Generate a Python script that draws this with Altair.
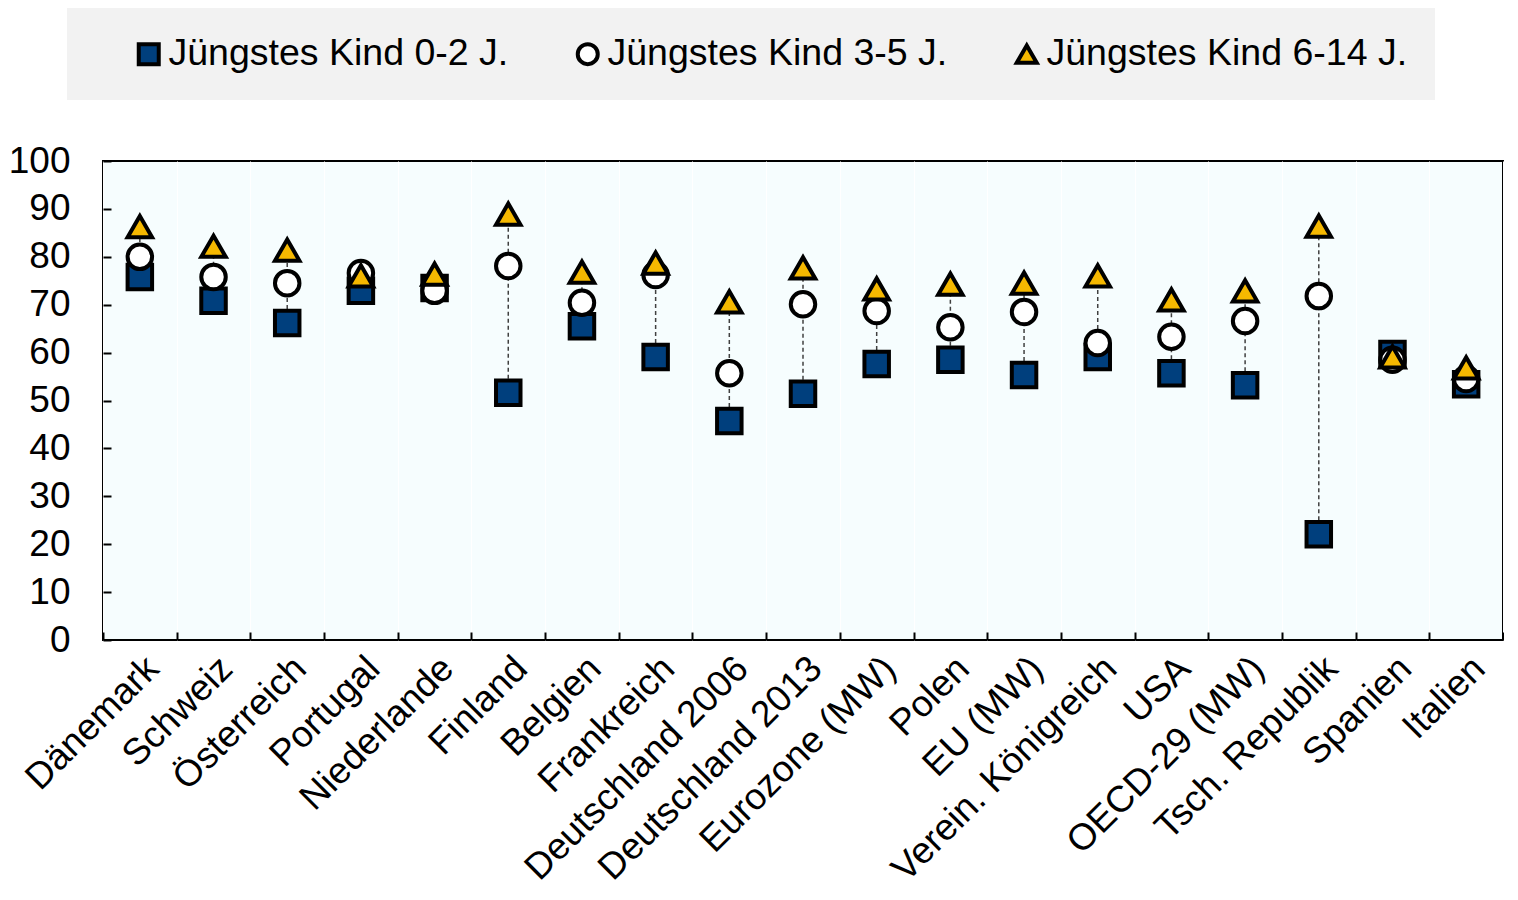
import altair as alt
import pandas as pd

categories = ["Dänemark", "Schweiz", "Österreich", "Portugal", "Niederlande", "Finland",
              "Belgien", "Frankreich", "Deutschland 2006", "Deutschland 2013", "Eurozone (MW)",
              "Polen", "EU (MW)", "Verein. Königreich", "USA", "OECD-29 (MW)",
              "Tsch. Republik", "Spanien", "Italien"]

series_names = ["Jüngstes Kind 0-2 J.", "Jüngstes Kind 3-5 J.", "Jüngstes Kind 6-14 J."]

kind_0_2 = [75.8, 70.8, 66.2, 72.9, 73.5, 51.6, 65.5, 59.1, 45.7, 51.4, 57.6, 58.5, 55.3, 59.1, 55.7, 53.2, 22.1, 59.7, 53.4]
kind_3_5 = [80.0, 75.8, 74.5, 76.6, 72.9, 78.1, 70.4, 76.2, 55.7, 70.1, 68.7, 65.3, 68.5, 62.0, 63.3, 66.6, 71.8, 58.5, 54.5]
kind_6_14 = [86.3, 82.2, 81.4, 76.0, 76.4, 88.9, 76.8, 78.7, 70.6, 77.7, 73.3, 74.3, 74.5, 76.0, 71.0, 72.9, 86.4, 59.1, 56.8]

y_ticks = [0, 10, 20, 30, 40, 50, 60, 70, 80, 90, 100]

rows = []
for name, vals in zip(series_names, [kind_0_2, kind_3_5, kind_6_14]):
    for c, v in zip(categories, vals):
        rows.append({"Land": c, "Reihe": name, "Wert": v})
df = pd.DataFrame(rows)

FONT = "Liberation Sans"

x_enc = alt.X("Land:N", sort=categories,
              scale=alt.Scale(domain=categories, paddingInner=0, paddingOuter=0),
              axis=alt.Axis(title=None, labelAngle=-45, labelFontSize=37, labelFont=FONT,
                            labelColor="black", labelPadding=10, labelLimit=500,
                            offset=-8, tickSize=8, tickWidth=2, tickColor="black",
                            tickBand="extent", domain=False, grid=True,
                            gridColor="#FFFFFF", gridWidth=1))

y_scale = alt.Scale(domain=[0, 100], nice=False)
y_axis = alt.Axis(title=None, values=y_ticks, labelFontSize=37, labelFont=FONT,
                  labelColor="black", labelPadding=33, offset=-8, tickSize=8,
                  tickWidth=2, tickColor="black", domain=False, grid=False)

rules = alt.Chart(df).transform_aggregate(
    lo="min(Wert)", hi="max(Wert)", groupby=["Land"]
).mark_rule(color="#404040", strokeWidth=1.5, strokeDash=[4, 3]).encode(
    x=x_enc,
    y=alt.Y("lo:Q", scale=y_scale, axis=y_axis),
    y2="hi:Q",
)

legend = alt.Legend(title=None, symbolStrokeWidth=4, symbolSize=400, symbolOffset=36)

points = alt.Chart(df).mark_point(filled=True, size=600, strokeWidth=4, opacity=1).encode(
    x=x_enc,
    y=alt.Y("Wert:Q", scale=y_scale, axis=y_axis),
    shape=alt.Shape("Reihe:N", sort=series_names,
                    scale=alt.Scale(domain=series_names, range=["square", "circle", "triangle-up"]),
                    legend=legend),
    fill=alt.Fill("Reihe:N", sort=series_names,
                  scale=alt.Scale(domain=series_names, range=["#003F7D", "#FFFFFF", "#F5B800"]),
                  legend=legend),
    stroke=alt.Stroke("Reihe:N", sort=series_names,
                      scale=alt.Scale(domain=series_names, range=["black", "black", "black"]),
                      legend=legend),
)

chart = alt.layer(rules, points).properties(
    width=1400, height=479, padding=0
).configure_view(
    fill="#F6FDFE", stroke="black", strokeWidth=2
).configure_legend(
    orient="none", legendX=-36, legendY=-153, direction="horizontal",
    fillColor="#F2F2F2", padding=27, columnPadding=24,
    labelFont=FONT, labelFontSize=37.5, labelColor="black", labelLimit=600,
    labelOffset=1
)

chart.save("out.html", embed_options={"renderer": "svg", "actions": False})
